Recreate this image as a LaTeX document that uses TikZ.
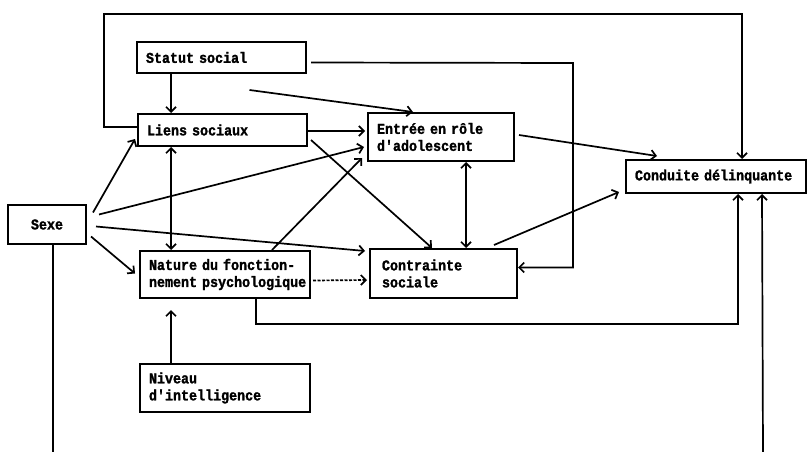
\documentclass[tikz,border=0pt]{standalone}
\usepackage{fontspec}
\setmonofont[FakeStretch=0.89,BoldFeatures={FakeBold=1.5}]{Liberation Mono}
\usetikzlibrary{arrows.meta,calc}
\begin{document}
\begin{tikzpicture}[x=1pt,y=-1pt,
  box/.style={draw,line width=2pt,rectangle,inner xsep=9pt,inner ysep=0pt,
    font=\ttfamily\bfseries\fontsize{15}{17}\selectfont,align=left},
  arr/.style={line width=1.7pt,-{Straight Barb[length=5pt,width=10pt]}},
  darr/.style={line width=1.7pt,{Straight Barb[length=5pt,width=10pt]}-{Straight Barb[length=5pt,width=10pt]}},
  ln/.style={line width=1.7pt}]
\useasboundingbox (0,0) rectangle (809,452);
\node[box,minimum width=169pt,minimum height=31pt,text width=151pt] (stat) at (221.5,57.5) {Statut social};
\node[box,minimum width=169pt,minimum height=32pt,text width=151pt] (liens) at (222.5,130) {Liens sociaux};
\node[box,minimum width=146pt,minimum height=48pt,text width=128pt] (entree) at (441,137) {\mbox{Entrée en rôle}\\\mbox{d'adolescent}};
\node[box,minimum width=180pt,minimum height=33pt,text width=162pt] (cond) at (716,176.5) {\mbox{Conduite délinquante}};
\node[box,minimum width=78pt,minimum height=39pt,text width=60pt,align=center] (sexe) at (47,224.5) {Sexe};
\node[box,minimum width=170pt,minimum height=47pt,text width=152pt] (nature) at (225,274.5) {\mbox{Nature du fonction-}\\\mbox{nement psychologique}};
\node[box,minimum width=147pt,minimum height=49pt,text width=123pt,inner xsep=12pt] (contr) at (443.5,273.5) {Contrainte\\sociale};
\node[box,minimum width=170pt,minimum height=48pt,text width=152pt] (niveau) at (225,388) {Niveau\\\mbox{d'intelligence}};
\coordinate (tl) at (104,14);
\coordinate (tr) at (742,14);
\coordinate (sr) at (573,63);
\coordinate (nb) at (256,324);
\coordinate (sb) at (53,452);
\coordinate (rb) at (763,452);
% top loop
\draw[arr] ($(liens.west)+(0,-3)$) -| (tl) -| (cond.north -| tr);
% statut -> contrainte
\draw[arr] ($(stat.east)+(4,5)$) -- (sr) |- ($(contr.east)+(0,-6)$);
\draw[arr] ($(stat.south)+(28,16)$) -- ($(entree.north)+(-28,0)$);
\draw[arr] ($(stat.south west)+(35,0)$) -- ($(liens.north west)+(34,0)$);
\draw[arr] ($(liens.east)+(0,1)$) -- ($(entree.west)+(-2,-6)$);
\draw[arr] ($(liens.south east)+(3,-7)$) -- ($(contr.north west)+(63,0)$);
\draw[darr] ($(liens.south west)+(34,0)$) -- ($(nature.north west)+(32,0)$);
% sexe
\draw[arr] ($(sexe.east)+(6,-12)$) -- ($(liens.south west)+(-2,-8)$);
\draw[arr] ($(sexe.east)+(12,-10)$) -- ($(entree.west)+(-3,10)$);
\draw[arr] ($(sexe.east)+(4,12)$) -- ($(nature.west)+(-4,-1)$);
\draw[arr] ($(sexe.east)+(9,2)$) -- ($(contr.north west)+(-4,3)$);
\draw[ln] (sexe.south -| sb) -- (sb);
\draw[arr] (rb) -- ($(cond.south west)+(137,0)$);
% nature
\draw[arr] ($(nature.north west)+(133,0)$) -- ($(entree.south west)+(-5,-4)$);
\draw[arr,dash pattern=on 3pt off 1.5pt] ($(nature.east)+(2,6)$) -- ($(contr.west)+(-2,6.5)$);
\draw[arr] (nature.south -| nb) -- (nb) -| ($(cond.south west)+(113,0)$);
\draw[arr] ($(niveau.north west)+(32,0)$) -- ($(nature.south west)+(32,11)$);
% entree / contrainte
\draw[darr] ($(entree.south west)+(99,0)$) -- ($(contr.north west)+(97,0)$);
\draw[arr] ($(entree.east)+(4,-2)$) -- ($(cond.north west)+(32,-3)$);
\draw[arr] ($(contr.north west)+(125,-3)$) -- ($(cond.south west)+(-6,-2)$);
\end{tikzpicture}
\end{document}
